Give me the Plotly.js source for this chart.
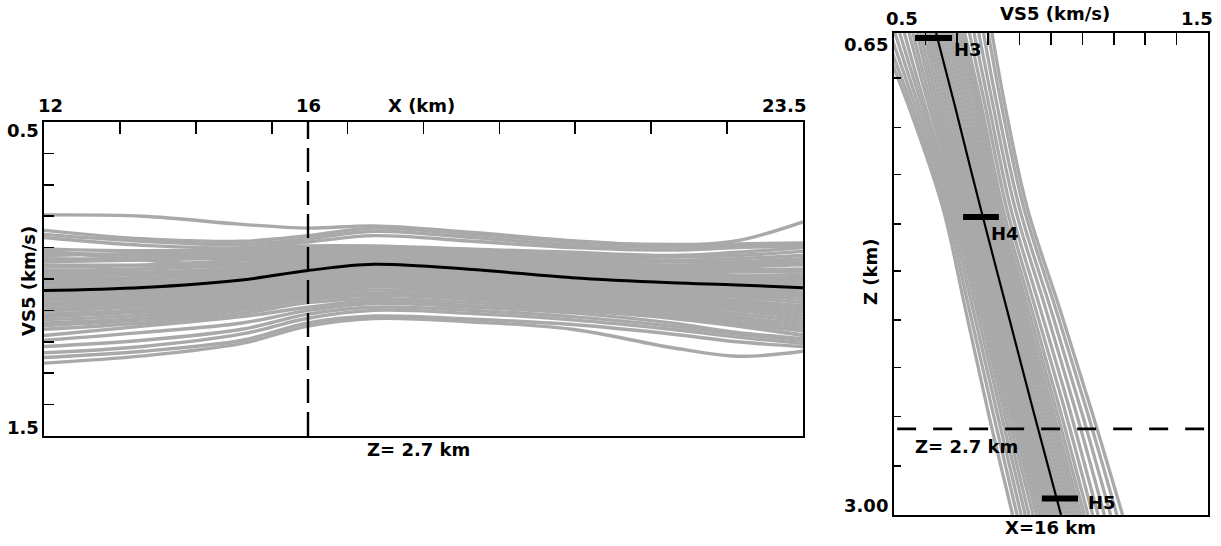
<!DOCTYPE html>
<html><head><meta charset="utf-8">
<script src="https://cdn.plot.ly/plotly-3.0.1.min.js"></script>
<style>html,body{margin:0;padding:0;background:#fff;}#chart{width:1221px;height:546px;}</style>
</head><body><div id="chart"></div>
<script>
// ---------------- Left panel: VS5 along X at Z = 2.7 km ----------------
const leftX = [12, 13.5, 15, 16, 17, 18.5, 20, 21.5, 22.5, 23.5];
const leftMeanVs = [1.037, 1.027, 1.003, 0.973, 0.953, 0.970, 0.996, 1.012, 1.019, 1.028];
const leftEnsembleVs = [
  [0.796, 0.800, 0.826, 0.838, 0.831, 0.852, 0.878, 0.893, 0.878, 0.818],
  [0.845, 0.872, 0.880, 0.862, 0.838, 0.858, 0.882, 0.890, 0.888, 0.885],
  [0.858, 0.880, 0.890, 0.872, 0.848, 0.868, 0.892, 0.900, 0.895, 0.890],
  [0.868, 0.893, 0.900, 0.882, 0.862, 0.880, 0.900, 0.908, 0.900, 0.895],
  [0.905, 0.910, 0.905, 0.895, 0.895, 0.905, 0.915, 0.925, 0.915, 0.900],
  [0.915, 0.925, 0.918, 0.900, 0.900, 0.912, 0.925, 0.930, 0.925, 0.912],
  [0.925, 0.918, 0.912, 0.905, 0.905, 0.918, 0.930, 0.940, 0.935, 0.925],
  [0.935, 0.935, 0.925, 0.910, 0.900, 0.915, 0.935, 0.945, 0.945, 0.935],
  [0.945, 0.940, 0.932, 0.918, 0.910, 0.925, 0.942, 0.955, 0.952, 0.945],
  [0.955, 0.955, 0.940, 0.925, 0.915, 0.930, 0.950, 0.960, 0.960, 0.955],
  [0.962, 0.958, 0.950, 0.930, 0.920, 0.938, 0.958, 0.968, 0.970, 0.968],
  [0.972, 0.968, 0.955, 0.938, 0.925, 0.942, 0.965, 0.975, 0.978, 0.975],
  [0.980, 0.978, 0.965, 0.945, 0.930, 0.950, 0.972, 0.985, 0.990, 0.985],
  [0.990, 0.985, 0.972, 0.950, 0.935, 0.955, 0.978, 0.992, 0.998, 0.995],
  [0.998, 0.995, 0.980, 0.955, 0.940, 0.960, 0.985, 0.998, 1.005, 1.005],
  [1.008, 1.000, 0.985, 0.960, 0.945, 0.965, 0.990, 1.005, 1.012, 1.015],
  [1.015, 1.010, 0.992, 0.965, 0.948, 0.968, 0.995, 1.010, 1.020, 1.025],
  [1.025, 1.018, 0.998, 0.970, 0.955, 0.975, 1.002, 1.018, 1.028, 1.035],
  [1.032, 1.025, 1.005, 0.978, 0.960, 0.980, 1.008, 1.025, 1.035, 1.045],
  [1.045, 1.035, 1.012, 0.982, 0.965, 0.985, 1.012, 1.030, 1.042, 1.055],
  [1.052, 1.042, 1.020, 0.988, 0.970, 0.990, 1.018, 1.038, 1.050, 1.065],
  [1.060, 1.050, 1.025, 0.995, 0.975, 0.995, 1.025, 1.045, 1.058, 1.075],
  [1.068, 1.058, 1.032, 1.000, 0.982, 1.002, 1.030, 1.052, 1.068, 1.085],
  [1.078, 1.065, 1.040, 1.008, 0.988, 1.008, 1.036, 1.058, 1.076, 1.095],
  [1.085, 1.072, 1.048, 1.015, 0.995, 1.015, 1.042, 1.065, 1.085, 1.105],
  [1.095, 1.080, 1.055, 1.022, 1.002, 1.020, 1.048, 1.072, 1.092, 1.115],
  [1.102, 1.088, 1.062, 1.030, 1.010, 1.028, 1.055, 1.080, 1.100, 1.125],
  [1.112, 1.098, 1.070, 1.038, 1.018, 1.035, 1.062, 1.088, 1.110, 1.135],
  [1.120, 1.105, 1.078, 1.045, 1.025, 1.042, 1.068, 1.095, 1.120, 1.145],
  [1.130, 1.115, 1.085, 1.052, 1.035, 1.050, 1.075, 1.102, 1.128, 1.155],
  [1.140, 1.125, 1.092, 1.060, 1.045, 1.058, 1.082, 1.110, 1.138, 1.165],
  [1.148, 1.130, 1.100, 1.065, 1.052, 1.065, 1.090, 1.118, 1.148, 1.178],
  [0.910, 0.940, 0.960, 0.950, 0.930, 0.935, 0.950, 0.975, 0.990, 1.010],
  [1.100, 1.060, 1.020, 0.990, 0.975, 0.990, 1.015, 1.030, 1.040, 1.050],
  [0.985, 1.010, 1.030, 1.010, 0.985, 0.990, 1.000, 0.980, 0.960, 0.945],
  [1.160, 1.140, 1.110, 1.075, 1.062, 1.075, 1.092, 1.115, 1.140, 1.165],
  [1.180, 1.150, 1.120, 1.090, 1.070, 1.085, 1.100, 1.125, 1.150, 1.180],
  [1.195, 1.170, 1.140, 1.100, 1.078, 1.090, 1.108, 1.140, 1.170, 1.190],
  [1.215, 1.195, 1.160, 1.112, 1.090, 1.100, 1.120, 1.150, 1.175, 1.195],
  [1.235, 1.215, 1.175, 1.125, 1.100, 1.110, 1.130, 1.160, 1.185, 1.205],
  [1.250, 1.230, 1.195, 1.140, 1.118, 1.128, 1.145, 1.175, 1.200, 1.215],
  [1.268, 1.245, 1.205, 1.150, 1.126, 1.137, 1.160, 1.218, 1.246, 1.230]
];
const leftXTicks = [12, 13.15, 14.3, 15.45, 16.6, 17.75, 18.9, 20.05, 21.2, 22.35, 23.5];
const leftVsTicks = [0.6, 0.7, 0.8, 0.9, 1.0, 1.1, 1.2, 1.3, 1.4];
const sectionX = 16;

// ---------------- Right panel: VS5 with depth at X = 16 km ----------------
const rightZ = [0.65, 1.0, 1.5, 2.0, 2.5, 3.0];
const rightMeanVs = [0.634, 0.693, 0.775, 0.860, 0.945, 1.032];
const rightEnsembleVs = [
  [0.455, 0.545, 0.655, 0.728, 0.800, 0.878],
  [0.470, 0.555, 0.664, 0.740, 0.815, 0.892],
  [0.487, 0.566, 0.673, 0.752, 0.828, 0.905],
  [0.503, 0.577, 0.682, 0.763, 0.840, 0.918],
  [0.518, 0.588, 0.690, 0.773, 0.851, 0.930],
  [0.533, 0.598, 0.698, 0.782, 0.861, 0.943],
  [0.548, 0.610, 0.706, 0.791, 0.871, 0.954],
  [0.560, 0.620, 0.714, 0.800, 0.880, 0.964],
  [0.573, 0.630, 0.722, 0.808, 0.889, 0.974],
  [0.584, 0.640, 0.730, 0.816, 0.898, 0.983],
  [0.595, 0.650, 0.738, 0.824, 0.906, 0.991],
  [0.605, 0.660, 0.746, 0.832, 0.914, 0.999],
  [0.615, 0.670, 0.754, 0.840, 0.922, 1.007],
  [0.625, 0.680, 0.762, 0.848, 0.931, 1.016],
  [0.635, 0.690, 0.770, 0.856, 0.940, 1.025],
  [0.645, 0.700, 0.778, 0.864, 0.949, 1.035],
  [0.655, 0.710, 0.786, 0.873, 0.958, 1.045],
  [0.665, 0.720, 0.794, 0.882, 0.968, 1.055],
  [0.675, 0.730, 0.802, 0.891, 0.978, 1.065],
  [0.685, 0.740, 0.810, 0.900, 0.988, 1.075],
  [0.695, 0.750, 0.818, 0.909, 0.998, 1.085],
  [0.705, 0.760, 0.827, 0.918, 1.008, 1.095],
  [0.715, 0.769, 0.836, 0.928, 1.019, 1.106],
  [0.725, 0.778, 0.846, 0.939, 1.031, 1.118],
  [0.740, 0.790, 0.858, 0.952, 1.046, 1.133],
  [0.755, 0.802, 0.871, 0.967, 1.062, 1.150],
  [0.770, 0.815, 0.885, 0.984, 1.080, 1.170],
  [0.785, 0.828, 0.899, 1.000, 1.098, 1.190],
  [0.800, 0.842, 0.913, 1.016, 1.116, 1.210],
  [0.812, 0.853, 0.924, 1.029, 1.131, 1.228]
];
const rightVsTicks = [0.6, 0.7, 0.8, 0.9, 1.0, 1.1, 1.2, 1.3, 1.4];
const rightZTicks = [0.87, 1.11, 1.34, 1.58, 1.81, 2.05, 2.28, 2.52, 2.76];
const horizonZ = 2.58;
const horizonNames = ['H3', 'H4', 'H5'];
const horizonZs = [0.674, 1.547, 2.92];
const horizonVsMin = [0.567, 0.72, 0.971];
const horizonVsMax = [0.685, 0.834, 1.086];

// ---------------- Text ----------------
const leftXLabels = ['12', '16', '23.5'];
const leftYLabels = ['0.5', '1.5'];
const rightXLabels = ['0.5', '1.5'];
const rightYLabels = ['0.65', '3.00'];
const texts = {
  xTitle: 'X (km)', vsTitle: 'VS5 (km/s)', zTitle: 'Z (km)',
  leftCaption: 'Z= 2.7 km', rightCaption: 'X=16 km', horizonLabel: 'Z= 2.7 km'
};

// ---------------- Build ----------------
const GRAY = '#a9a9a9';
const traces = [];
leftEnsembleVs.forEach(v => traces.push({
  x: leftX, y: v, xaxis: 'x', yaxis: 'y', mode: 'lines', type: 'scatter',
  line: {color: GRAY, width: 3.4, shape: 'spline', smoothing: 1}, hoverinfo: 'skip'
}));
traces.push({x: leftX, y: leftMeanVs, xaxis: 'x', yaxis: 'y', mode: 'lines', type: 'scatter',
  line: {color: '#000', width: 3, shape: 'spline', smoothing: 1}});
rightEnsembleVs.forEach(v => traces.push({
  x: v, y: rightZ, xaxis: 'x2', yaxis: 'y2', mode: 'lines', type: 'scatter',
  line: {color: GRAY, width: 3.3, shape: 'spline', smoothing: 1}, hoverinfo: 'skip'
}));
traces.push({x: rightMeanVs, y: rightZ, xaxis: 'x2', yaxis: 'y2', mode: 'lines', type: 'scatter',
  line: {color: '#000', width: 2.2, shape: 'spline', smoothing: 1}});
horizonNames.forEach((n, i) => traces.push({
  x: [horizonVsMin[i], horizonVsMax[i]], y: [horizonZs[i], horizonZs[i]],
  xaxis: 'x2', yaxis: 'y2', mode: 'lines', type: 'scatter', line: {color: '#000', width: 6}
}));

const W = 1221, H = 546;
const px = p => p / W, py = p => 1 - p / H;
const F = {family: 'DejaVu Sans, Arial, sans-serif', size: 18, color: '#000', weight: 'bold'};
function ann(text, x, y, xa, ya, extra) {
  return Object.assign({text: text, x: px(x), y: py(y), xref: 'paper', yref: 'paper',
    xanchor: xa, yanchor: ya, showarrow: false, font: F, borderpad: 0}, extra || {});
}
const annotations = [
  ann(leftXLabels[0], 50, 106, 'center', 'middle'),
  Object.assign(ann(leftXLabels[1], 0, 106, 'center', 'middle'), {x: sectionX, xref: 'x'}),
  ann(texts.xTitle, 421, 106, 'center', 'middle'),
  ann(leftXLabels[2], 807, 106, 'right', 'middle'),
  ann(leftYLabels[0], 40, 130, 'right', 'middle'),
  ann(leftYLabels[1], 40, 427, 'right', 'middle'),
  ann(texts.vsTitle, 28, 281, 'center', 'middle', {textangle: -90}),
  ann(texts.leftCaption, 418, 449, 'center', 'middle'),
  ann(rightXLabels[0], 902, 19, 'center', 'middle'),
  ann(texts.vsTitle, 1055, 13, 'center', 'middle'),
  ann(rightXLabels[1], 1197, 19, 'center', 'middle'),
  ann(rightYLabels[0], 889, 44, 'right', 'middle'),
  ann(rightYLabels[1], 889, 505, 'right', 'middle'),
  ann(texts.zTitle, 870, 272, 'center', 'middle', {textangle: -90}),
  ann(texts.rightCaption, 1050, 527, 'center', 'middle'),
  ann(texts.horizonLabel, 966, 446, 'center', 'middle'),
  ann(horizonNames[0], 953, 49, 'left', 'middle'),
  ann(horizonNames[1], 990, 233, 'left', 'middle'),
  ann(horizonNames[2], 1087, 503, 'left', 'middle')
];

const axBase = {showgrid: false, zeroline: false, showline: true, linecolor: '#000', linewidth: 2,
  mirror: true, ticks: 'inside', tickcolor: '#000', tickwidth: 1.6, showticklabels: false, fixedrange: true};
const layout = {
  width: W, height: H, margin: {l: 0, r: 0, t: 0, b: 0},
  paper_bgcolor: '#fff', plot_bgcolor: '#fff', showlegend: false,
  xaxis: Object.assign({}, axBase, {domain: [px(44), px(803)], range: [12, 23.5], side: 'top',
    tickmode: 'array', tickvals: leftXTicks, ticklen: 12, anchor: 'y'}),
  yaxis: Object.assign({}, axBase, {domain: [py(436), py(122)], range: [1.5, 0.5],
    tickmode: 'array', tickvals: leftVsTicks, ticklen: 10, anchor: 'x'}),
  xaxis2: Object.assign({}, axBase, {domain: [px(894), px(1208)], range: [0.5, 1.5], side: 'top',
    tickmode: 'array', tickvals: rightVsTicks, ticklen: 12, anchor: 'y2'}),
  yaxis2: Object.assign({}, axBase, {domain: [py(515), py(33)], range: [3.0, 0.65],
    tickmode: 'array', tickvals: rightZTicks, ticklen: 7, anchor: 'x2'}),
  shapes: [
    {type: 'line', xref: 'x', yref: 'y domain', x0: sectionX, x1: sectionX, y0: 0, y1: 1,
      line: {color: '#000', width: 2.4, dash: '24px,9px'}},
    {type: 'line', xref: 'x2 domain', yref: 'y2', x0: 0.01, x1: 1, y0: horizonZ, y1: horizonZ,
      line: {color: '#000', width: 2.6, dash: '19px,17px'}}
  ],
  annotations: annotations
};
Plotly.newPlot('chart', traces, layout, {staticPlot: true, displayModeBar: false});
</script></body></html>
